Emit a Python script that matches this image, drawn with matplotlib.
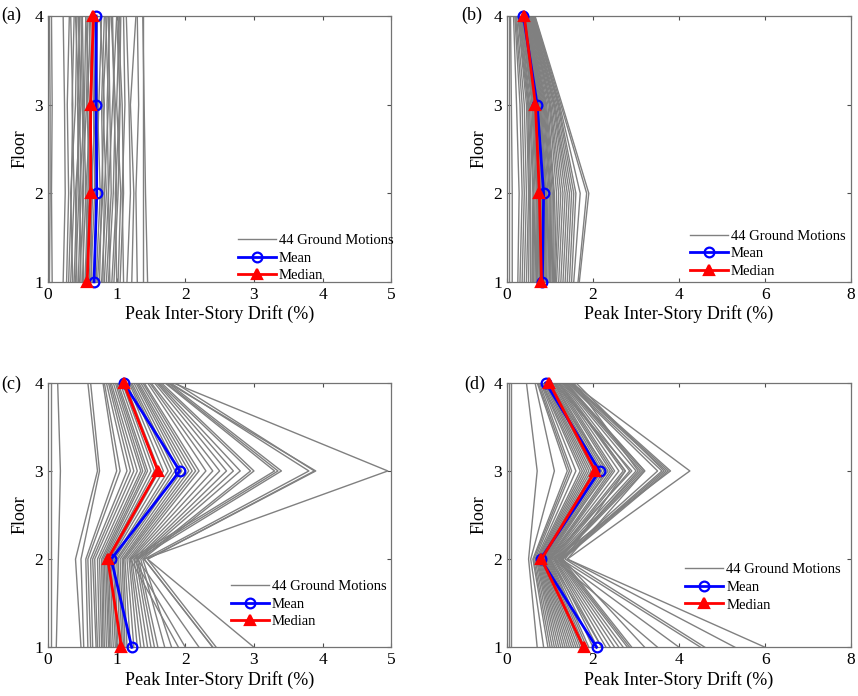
import matplotlib
matplotlib.use("Agg")
import matplotlib.pyplot as plt

plt.rcParams['font.family'] = ['Liberation Serif', 'DejaVu Serif']

floors = [1, 2, 3, 4]

# peak inter-story drift (%) per ground motion, floors 1..4
a_gm = [
    [0.02, 0.03, 0.03, 0.02], [0.06, 0.05, 0.06, 0.05], [0.22, 0.25, 0.24, 0.22],
    [0.27, 0.30, 0.28, 0.31], [0.30, 0.34, 0.36, 0.33], [0.33, 0.38, 0.35, 0.38],
    [0.36, 0.33, 0.40, 0.42], [0.38, 0.42, 0.45, 0.40], [0.40, 0.45, 0.43, 0.46],
    [0.42, 0.40, 0.48, 0.44], [0.44, 0.48, 0.46, 0.50], [0.46, 0.52, 0.50, 0.48],
    [0.48, 0.46, 0.53, 0.55], [0.50, 0.55, 0.52, 0.50], [0.52, 0.50, 0.56, 0.58],
    [0.54, 0.58, 0.60, 0.55], [0.55, 0.60, 0.57, 0.62], [0.57, 0.62, 0.63, 0.60],
    [0.58, 0.55, 0.62, 0.66], [0.60, 0.65, 0.62, 0.68], [0.62, 0.68, 0.66, 0.64],
    [0.64, 0.62, 0.70, 0.72], [0.66, 0.72, 0.68, 0.66], [0.68, 0.70, 0.74, 0.78],
    [0.70, 0.76, 0.72, 0.70], [0.72, 0.80, 0.78, 0.82], [0.75, 0.78, 0.82, 0.76],
    [0.78, 0.85, 0.80, 0.86], [0.80, 0.82, 0.88, 0.84], [0.82, 0.88, 0.86, 0.90],
    [0.85, 0.92, 0.90, 0.88], [0.88, 0.95, 0.98, 0.92], [0.90, 0.88, 0.94, 1.00],
    [0.93, 1.00, 0.96, 0.94], [0.96, 1.02, 1.05, 1.00], [1.00, 0.98, 1.04, 1.06],
    [1.02, 1.06, 1.00, 1.04], [1.05, 1.10, 1.08, 1.02], [1.10, 1.08, 1.12, 1.10],
    [1.15, 1.20, 1.18, 1.14], [1.22, 1.25, 1.20, 1.28], [1.30, 1.28, 1.32, 1.30],
    [1.38, 1.38, 1.38, 1.38], [1.45, 1.42, 1.40, 1.38],
]
a_mean = [0.67, 0.71, 0.70, 0.70]
a_median = [0.57, 0.62, 0.62, 0.66]

b_gm = [
    [0.05, 0.05, 0.05, 0.05], [0.12, 0.12, 0.10, 0.08], [0.25, 0.28, 0.22, 0.15],
    [0.30, 0.35, 0.30, 0.18], [0.35, 0.40, 0.35, 0.20], [0.40, 0.45, 0.40, 0.22],
    [0.45, 0.50, 0.45, 0.25], [0.50, 0.52, 0.48, 0.26], [0.55, 0.55, 0.50, 0.28],
    [0.58, 0.60, 0.52, 0.30], [0.60, 0.62, 0.55, 0.30], [0.62, 0.65, 0.58, 0.32],
    [0.65, 0.68, 0.60, 0.33], [0.68, 0.70, 0.62, 0.35], [0.70, 0.72, 0.64, 0.36],
    [0.72, 0.74, 0.65, 0.37], [0.75, 0.76, 0.66, 0.38], [0.78, 0.78, 0.68, 0.39],
    [0.80, 0.80, 0.70, 0.40], [0.82, 0.82, 0.72, 0.40], [0.84, 0.85, 0.74, 0.42],
    [0.86, 0.88, 0.76, 0.43], [0.88, 0.90, 0.78, 0.44], [0.90, 0.92, 0.80, 0.45],
    [0.92, 0.95, 0.82, 0.46], [0.95, 0.98, 0.84, 0.47], [0.98, 1.00, 0.86, 0.48],
    [1.00, 1.02, 0.88, 0.50], [1.02, 1.05, 0.90, 0.50], [1.05, 1.08, 0.92, 0.52],
    [1.08, 1.10, 0.95, 0.53], [1.10, 1.15, 0.98, 0.54], [1.12, 1.20, 1.00, 0.55],
    [1.15, 1.25, 1.02, 0.56], [1.20, 1.30, 1.05, 0.57], [1.25, 1.35, 1.08, 0.58],
    [1.30, 1.40, 1.10, 0.58], [1.35, 1.45, 1.12, 0.60], [1.40, 1.50, 1.15, 0.60],
    [1.45, 1.55, 1.18, 0.62], [1.50, 1.60, 1.20, 0.62], [1.55, 1.70, 1.22, 0.63],
    [1.65, 1.85, 1.25, 0.64], [1.68, 1.90, 1.28, 0.65],
]
b_mean = [0.82, 0.85, 0.70, 0.38]
b_median = [0.80, 0.75, 0.66, 0.40]

c_gm = [
    [0.05, 0.05, 0.05, 0.05], [0.12, 0.15, 0.18, 0.14], [0.48, 0.40, 0.72, 0.58],
    [0.52, 0.48, 0.75, 0.62], [0.58, 0.55, 1.00, 0.80], [0.62, 0.58, 1.05, 0.82],
    [0.65, 0.62, 1.15, 0.85], [0.70, 0.65, 1.20, 0.88], [0.72, 0.68, 1.25, 0.90],
    [0.75, 0.72, 1.30, 0.92], [0.78, 0.75, 1.35, 0.95], [0.80, 0.78, 1.38, 0.98],
    [0.82, 0.80, 1.42, 1.00], [0.85, 0.82, 1.45, 1.02], [0.88, 0.84, 1.50, 1.05],
    [0.90, 0.86, 1.55, 1.08], [0.92, 0.88, 1.60, 1.10], [0.95, 0.90, 1.62, 1.12],
    [0.98, 0.92, 1.68, 1.15], [1.00, 0.95, 1.75, 1.18], [1.02, 0.97, 1.80, 1.20],
    [1.05, 1.00, 1.85, 1.22], [1.08, 1.02, 1.90, 1.25], [1.10, 1.05, 1.95, 1.28],
    [1.12, 1.08, 2.00, 1.30], [1.15, 1.10, 2.05, 1.32], [1.20, 1.12, 2.10, 1.35],
    [1.25, 1.15, 2.15, 1.38], [1.30, 1.18, 2.20, 1.40], [1.35, 1.20, 2.30, 1.45],
    [1.40, 1.22, 2.40, 1.48], [1.45, 1.25, 2.50, 1.50], [1.50, 1.28, 2.60, 1.55],
    [1.55, 1.30, 2.70, 1.58], [1.60, 1.32, 2.80, 1.60], [1.70, 1.35, 2.95, 1.62],
    [1.80, 1.38, 3.00, 1.65], [1.90, 1.20, 3.30, 1.70], [2.00, 1.25, 3.35, 1.72],
    [2.20, 1.30, 3.40, 1.75], [2.40, 1.40, 3.80, 1.78], [2.45, 1.45, 3.88, 1.85],
    [3.00, 1.45, 3.90, 1.75], [2.40, 1.40, 4.95, 1.82],
]
c_mean = [1.22, 0.92, 1.92, 1.10]
c_median = [1.07, 0.87, 1.60, 1.10]

d_gm = [
    [0.05, 0.05, 0.05, 0.05], [0.10, 0.10, 0.10, 0.10], [0.70, 0.50, 0.70, 0.45],
    [0.85, 0.55, 1.10, 0.65], [0.95, 0.60, 1.40, 0.70], [1.00, 0.62, 1.45, 0.72],
    [1.05, 0.65, 1.50, 0.75], [1.10, 0.68, 1.60, 0.78], [1.15, 0.70, 1.70, 0.80],
    [1.20, 0.72, 1.75, 0.82], [1.25, 0.74, 1.80, 0.85], [1.30, 0.76, 1.85, 0.88],
    [1.35, 0.78, 1.90, 0.90], [1.40, 0.80, 1.95, 0.92], [1.45, 0.82, 2.00, 0.95],
    [1.50, 0.84, 2.05, 0.98], [1.55, 0.86, 2.10, 1.00], [1.60, 0.88, 2.15, 1.02],
    [1.65, 0.90, 2.20, 1.05], [1.70, 0.92, 2.25, 1.08], [1.75, 0.94, 2.30, 1.10],
    [1.80, 0.96, 2.40, 1.12], [1.85, 0.98, 2.45, 1.15], [1.90, 1.00, 2.50, 1.18],
    [2.00, 1.02, 2.60, 1.20], [2.10, 1.05, 2.70, 1.22], [2.20, 1.08, 2.75, 1.25],
    [2.30, 1.10, 2.85, 1.28], [2.40, 1.12, 3.00, 1.30], [2.50, 1.15, 3.10, 1.32],
    [2.60, 1.18, 3.15, 1.35], [2.70, 1.20, 3.20, 1.38], [2.80, 1.22, 3.50, 1.40],
    [2.85, 1.25, 3.60, 1.42], [2.90, 1.28, 3.70, 1.45], [3.20, 1.30, 3.75, 1.48],
    [3.50, 1.10, 3.80, 1.50], [4.00, 1.20, 3.05, 1.55], [4.50, 1.25, 3.65, 1.60],
    [4.60, 1.35, 2.75, 1.20], [5.30, 1.40, 3.20, 1.35], [6.00, 1.40, 4.25, 1.50],
    [2.20, 1.00, 2.90, 1.10], [1.75, 0.85, 2.35, 0.95],
]
d_mean = [2.08, 0.78, 2.15, 0.90]
d_median = [1.78, 0.80, 2.05, 0.98]

panels = [
    ("(a)", a_gm, a_mean, a_median, 5, [0, 1, 2, 3, 4, 5]),
    ("(b)", b_gm, b_mean, b_median, 8, [0, 2, 4, 6, 8]),
    ("(c)", c_gm, c_mean, c_median, 5, [0, 1, 2, 3, 4, 5]),
    ("(d)", d_gm, d_mean, d_median, 8, [0, 2, 4, 6, 8]),
]

rects = [
    [0.056, 0.595, 0.400, 0.382],
    [0.591, 0.595, 0.401, 0.382],
    [0.056, 0.070, 0.400, 0.380],
    [0.591, 0.070, 0.401, 0.380],
]
leg_pos = [(0.553, 0.18), (0.532, 0.197), (0.533, 0.255), (0.518, 0.318)]
tag_pos = [(0.002, 0.978), (0.538, 0.978), (0.002, 0.448), (0.541, 0.448)]

fig = plt.figure(figsize=(8.58, 6.96), dpi=100)

for (tag, gm, mean, median, xmax, xt), r, lp, tp in zip(panels, rects, leg_pos, tag_pos):
    ax = fig.add_axes(r)
    for i, row in enumerate(gm):
        ax.plot(row, floors, color=(0.5, 0.5, 0.5), lw=1.0,
                label="44 Ground Motions" if i == 0 else None)
    ax.plot(mean, floors, color="blue", lw=2, marker="o", ms=7,
            mfc="none", mew=1.6, label="Mean", clip_on=False, zorder=5)
    ax.plot(median, floors, color="red", lw=2, marker="^", ms=7,
            mfc="red", mew=1.6, label="Median", clip_on=False, zorder=6)
    ax.set_xlim(0, xmax)
    ax.set_ylim(1, 4)
    ax.set_xticks(xt)
    ax.set_yticks([1, 2, 3, 4])
    ax.tick_params(direction="in", top=True, right=True, labelsize=12.5,
                   length=3, color="0.3")
    for s in ax.spines.values():
        s.set_color("0.45")
        s.set_linewidth(0.9)
    ax.set_xlabel("Peak Inter-Story Drift (%)", fontsize=13, labelpad=2)
    ax.set_ylabel("Floor", fontsize=13, labelpad=4)
    ax.legend(loc="upper left", bbox_to_anchor=lp, frameon=False,
              fontsize=10.5, handlelength=2.6, handletextpad=0.2,
              labelspacing=0.3, borderpad=0, borderaxespad=0)
    fig.text(tp[0], tp[1], tag, fontsize=13, va="center", ha="left")

fig.savefig("out.png", dpi=100)
